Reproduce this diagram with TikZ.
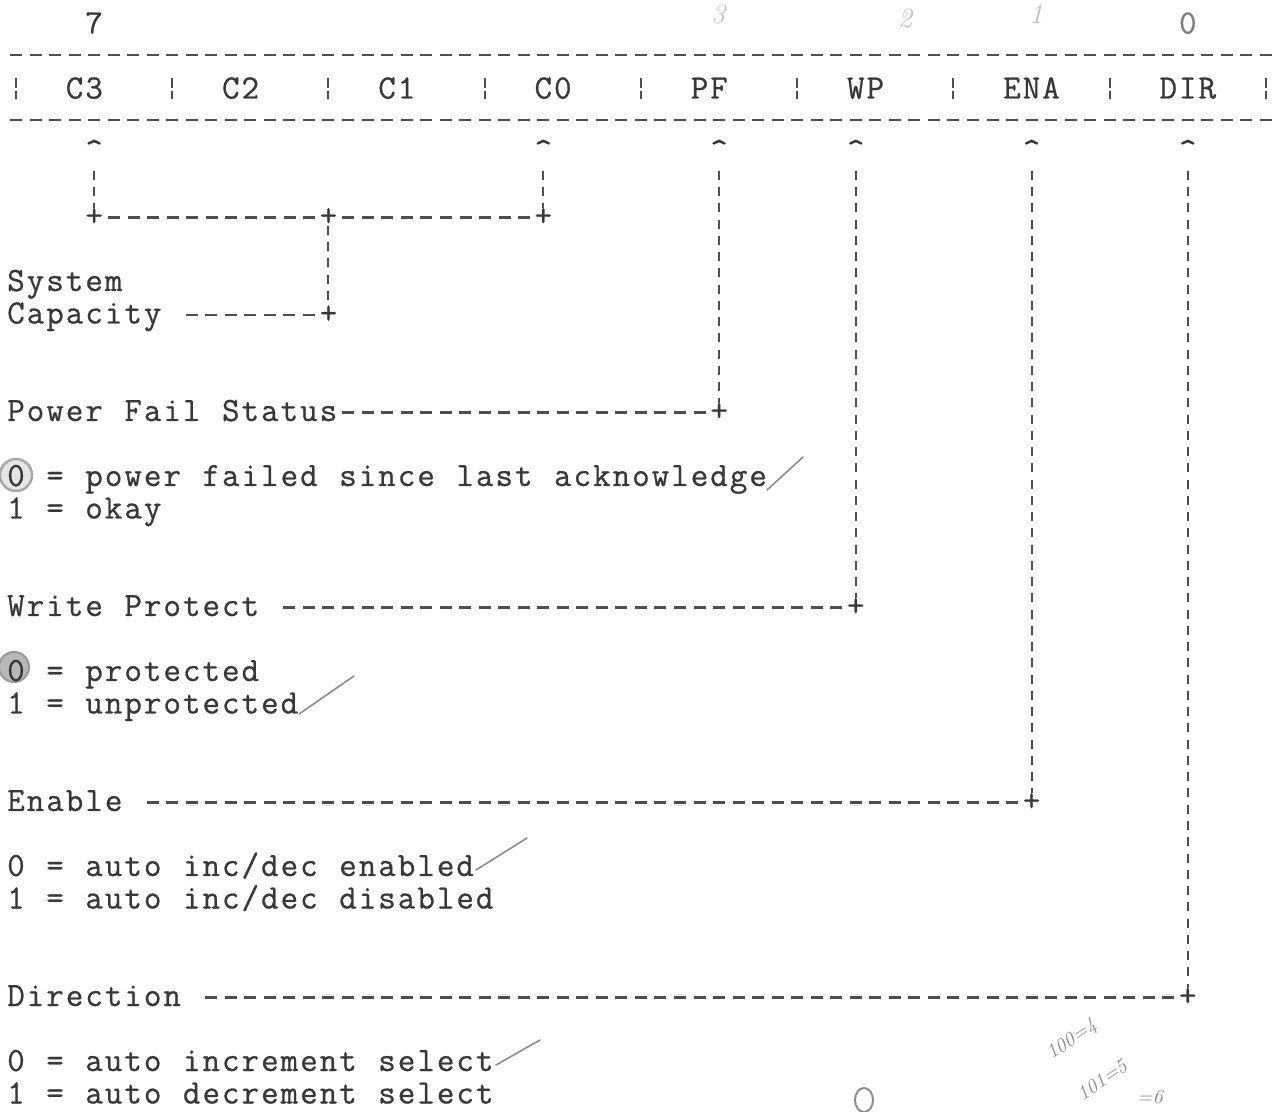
\documentclass[tikz,border=0pt]{standalone}
\usepackage{fontspec}
\setmonofont{Latin Modern Mono}[FakeBold=0.7]
\usetikzlibrary{calc}
\definecolor{ink}{HTML}{383838}
\definecolor{rule}{HTML}{4E4E4E}
\definecolor{pencil}{HTML}{8C8C8C}
\ExplSyntaxOn
\NewDocumentCommand\typew{m}{\str_map_inline:nn{#1}{\makebox[9.765pt]{##1}}}
\ExplSyntaxOff
\newcommand\twfont{\fontsize{17}{20}\selectfont\ttfamily}
\begin{document}
\begin{tikzpicture}[x=0.5pt,y=-0.5pt,
 declare function={cx(\col)=16+19.53*\col; yd(\row)=55+32.5*\row;},
 lbl/.style={inner sep=0pt,outer sep=0pt,anchor=base west,text=ink,font=\twfont},
 glyph/.style={inner sep=0pt,outer sep=0pt,anchor=base,text=ink,font=\twfont},
 hlead/.style={draw=rule,line width=1.35pt,dash pattern=on 6pt off 3.765pt,dash phase=7.882pt},
 vlead/.style={draw=rule,line width=1pt,dash pattern=on 4.5pt off 3.625pt},
 sepbar/.style={draw=rule,line width=1pt},
 tick/.style={draw=pencil,line width=0.8pt,line cap=round},
 hand/.style={inner sep=0pt,text=pencil,font=\fontsize{10}{12}\selectfont\itshape}]
\useasboundingbox[fill=white] (0,0) rectangle (1276,1112);

% pencil circles behind the text
\fill[black!10] (16,475) circle (16);
\draw[black!35,line width=1.2pt] (16,475) circle (16);
\fill[black!28] (14,667) circle (15);
\draw[black!40,line width=1pt] (14,667) circle (15);

% bit numbers
\node[glyph] (b7) at ({cx(4)},{yd(-1)+11}) {7};
\node[glyph,text=ink!65] (b0) at ({cx(60)},{yd(-1)+11}) {0};
\node[hand,text=black!25,font=\fontsize{14}{16}\selectfont\itshape] (h3) at (718,14) {3};
\node[hand,text=black!25,font=\fontsize{14}{16}\selectfont\itshape] (h2) at (905,18) {2};
\node[hand,text=black!25,font=\fontsize{14}{16}\selectfont\itshape] (h1) at (1036,14) {1};

% register
\draw[hlead] ({cx(0)-9.765},{yd(0)}) -- ({cx(64)+9.765},{yd(0)});
\draw[hlead] ({cx(0)-9.765},{yd(2)}) -- ({cx(64)+9.765},{yd(2)});
\foreach \k in {0,8,...,64} {
  \draw[sepbar] ({cx(\k)},{yd(1)-9}) -- ({cx(\k)},{yd(1)+1})
                ({cx(\k)},{yd(1)+3.5}) -- ({cx(\k)},{yd(1)+12});
}
\node[lbl] (rC3) at ({cx(3)-9.765},{yd(1)+11}) {\typew{C3}};
\node[lbl] (rC2) at ({cx(11)-9.765},{yd(1)+11}) {\typew{C2}};
\node[lbl] (rC1) at ({cx(19)-9.765},{yd(1)+11}) {\typew{C1}};
\node[lbl] (rC0) at ({cx(27)-9.765},{yd(1)+11}) {\typew{C0}};
\node[lbl] (rPF) at ({cx(35)-9.765},{yd(1)+11}) {\typew{PF}};
\node[lbl] (rWP) at ({cx(43)-9.765},{yd(1)+11}) {\typew{WP}};
\node[lbl] (rENA) at ({cx(51)-9.765},{yd(1)+11}) {\typew{ENA}};
\node[lbl] (rDIR) at ({cx(59)-9.765},{yd(1)+11}) {\typew{DIR}};

% carets
\node[glyph] (aC3) at ({cx(4)},{yd(3)+8.5}) {\textasciicircum};
\node[glyph] (aC0) at ({cx(27)},{yd(3)+8.5}) {\textasciicircum};
\node[glyph] (aPF) at ({cx(36)},{yd(3)+8.5}) {\textasciicircum};
\node[glyph] (aWP) at ({cx(43)},{yd(3)+8.5}) {\textasciicircum};
\node[glyph] (aENA) at ({cx(52)},{yd(3)+8.5}) {\textasciicircum};
\node[glyph] (aDIR) at ({cx(60)},{yd(3)+8.5}) {\textasciicircum};

% junctions
\coordinate (pC3) at ({cx(4)},{yd(5)});
\coordinate (pCap) at ({cx(16)},{yd(5)});
\coordinate (pC0) at ({cx(27)},{yd(5)});
\coordinate (pCapE) at ({cx(16)},{yd(8)});
\coordinate (pPF) at ({cx(36)},{yd(11)});
\coordinate (pWP) at ({cx(43)},{yd(17)});
\coordinate (pENA) at ({cx(52)},{yd(23)});
\coordinate (pDIR) at ({cx(60)},{yd(29)});
\foreach \p in {C3,Cap,C0,CapE,PF,WP,ENA,DIR} {
  \node[glyph] (j\p) at ($(p\p)+(0,-4.25pt)$) {+};
}

% text labels
\node[lbl] (lSys) at ({cx(0)-9.765},{yd(7)+8.5}) {\typew{System}};
\node[lbl] (lCap) at ({cx(0)-9.765},{yd(8)+8.5}) {\typew{Capacity}};
\node[lbl] (lPF) at ({cx(0)-9.765},{yd(11)+8.5}) {\typew{Power Fail Status}};
\node[lbl] (pf0) at ({cx(0)-9.765},{yd(13)+8.5}) {\typew{0 = power failed since last acknowledge}};
\node[lbl] (pf1) at ({cx(0)-9.765},{yd(14)+8.5}) {\typew{1 = okay}};
\node[lbl] (lWP) at ({cx(0)-9.765},{yd(17)+8.5}) {\typew{Write Protect}};
\node[lbl] (wp0) at ({cx(0)-9.765},{yd(19)+8.5}) {\typew{0 = protected}};
\node[lbl] (wp1) at ({cx(0)-9.765},{yd(20)+8.5}) {\typew{1 = unprotected}};
\node[lbl] (lENA) at ({cx(0)-9.765},{yd(23)+8.5}) {\typew{Enable}};
\node[lbl] (en0) at ({cx(0)-9.765},{yd(25)+8.5}) {\typew{0 = auto inc/dec enabled}};
\node[lbl] (en1) at ({cx(0)-9.765},{yd(26)+8.5}) {\typew{1 = auto inc/dec disabled}};
\node[lbl] (lDIR) at ({cx(0)-9.765},{yd(29)+8.5}) {\typew{Direction}};
\node[lbl] (dr0) at ({cx(0)-9.765},{yd(31)+8.5}) {\typew{0 = auto increment select}};
\node[lbl] (dr1) at ({cx(0)-9.765},{yd(32)+8.5}) {\typew{1 = auto decrement select}};

% connectors
\draw[vlead,shorten <=5pt] (aC3.south) -- (jC3.north);
\draw[vlead,shorten <=5pt] (aC0.south) -- (jC0.north);
\draw[hlead,dash phase=7.2pt] (jC3.east |- pC3) -- (jCap.west |- pCap);
\draw[hlead,dash phase=7.2pt] (jCap.east |- pCap) -- (jC0.west |- pC0);
\draw[vlead] (jCap.south) -- (jCapE.north);
\draw[hlead] ($(lCap.west |- pCapE)+(87.885pt,0)$) -- (jCapE.west |- pCapE);
\draw[vlead,shorten <=5pt] (aPF.south) -- (jPF.north);
\draw[hlead] ($(lPF.west |- pPF)+(166.005pt,0)$) -- (jPF.west |- pPF);
\draw[vlead,shorten <=5pt] (aWP.south) -- (jWP.north);
\draw[hlead] ($(lWP.west |- pWP)+(136.71pt,0)$) -- (jWP.west |- pWP);
\draw[vlead,shorten <=5pt] (aENA.south) -- (jENA.north);
\draw[hlead] ($(lENA.west |- pENA)+(68.355pt,0)$) -- (jENA.west |- pENA);
\draw[vlead,shorten <=5pt] (aDIR.south) -- (jDIR.north);
\draw[hlead] ($(lDIR.west |- pDIR)+(97.65pt,0)$) -- (jDIR.west |- pDIR);

% pencil ticks
\draw[tick] (767,490) -- (803,457);
\draw[tick] (299,714) -- (354,676);
\draw[tick] (476,870) -- (527,838);
\draw[tick] (496,1065) -- (540,1040);

% pencil notes bottom right
\node[hand,rotate=35] (s1) at (1072,1040) {100=4};
\node[hand,rotate=35] (s2) at (1102,1080) {101=5};
\node[hand] (s3) at (1150,1097) {=6};
\draw[pencil,line width=1pt] (864,1100) ellipse (9 and 12);
\end{tikzpicture}
\end{document}
